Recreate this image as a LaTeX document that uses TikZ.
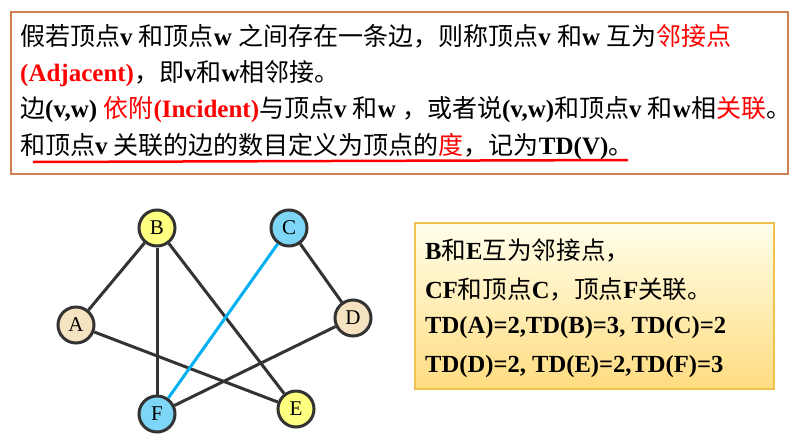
\documentclass[tikz,border=0pt]{standalone}
\usepackage{fontspec}
\setmainfont{Liberation Serif}
\newfontfamily\cjk{Noto Sans CJK SC}
\newcommand\zh[1]{{\cjk\mdseries #1}}
\usetikzlibrary{positioning}
\definecolor{edgegray}{RGB}{51,51,51}
\definecolor{lineblue}{RGB}{0,176,240}
\definecolor{vyellow}{RGB}{255,255,128}
\definecolor{vblue}{RGB}{125,214,245}
\definecolor{vbeige}{RGB}{245,226,192}
\definecolor{boxbrown}{RGB}{208,128,82}
\definecolor{boxgold}{RGB}{240,192,80}
\tikzset{
  vtx/.style={circle,draw=edgegray,line width=3pt,minimum size=36pt,inner sep=0pt,font=\fontsize{21}{21}\selectfont},
  lnk/.style={draw=edgegray,line width=3pt},
  txt/.style={anchor=west,inner sep=0pt,font=\fontsize{25}{25}\selectfont\bfseries},
  tdtxt/.style={anchor=west,inner sep=0pt,font=\fontsize{24.6}{24.6}\selectfont\bfseries},
}
\begin{document}
\begin{tikzpicture}[x=1pt,y=-1pt]
% 1 unit = 1 px of the 802x442 slide
\fill[white] (0,0) rectangle (802,442);
\draw[boxbrown,line width=2pt] (11,12) rectangle (788,174);
\node[txt] (l1) at (20,36) {\zh{假若顶点}v \zh{和顶点}w \zh{之间存在一条边，则称顶点}v \zh{和}w \zh{互为}\textcolor{red}{\zh{邻接点}}};
\node[txt] (l2) at (20,74) {\textcolor{red}{(Adjacent)}\zh{，即}v\zh{和}w\zh{相邻接。}};
\node[txt] (l3) at (20,110) {\zh{边}(v,w) \textcolor{red}{\zh{依附}(Incident)}\zh{与顶点}v \zh{和}w \zh{，或者说}(v,w)\zh{和顶点}v \zh{和}w\zh{相}\textcolor{red}{\zh{关联}}\zh{。}};
\node[txt] (l4) at (20,147) {\zh{和顶点}v \zh{关联的边的数目定义为顶点的}\textcolor{red}{\zh{度}}\zh{，记为}TD(V)\zh{。}};
\draw[red,line width=2.5pt] (33,162) -- (628,160);
% graph
\node[vtx,fill=vyellow] (B) at (157,228) {B};
\node[vtx,fill=vblue] (C) at (289,228) {C};
\node[vtx,fill=vbeige] (A) at (76,325) {A};
\node[vtx,fill=vbeige] (D) at (353,318) {D};
\node[vtx,fill=vblue] (F) at (157,414) {F};
\node[vtx,fill=vyellow] (E) at (296,409) {E};
\foreach \u/\v in {A/B,B/F,B/E,C/D,A/E,D/F} {\draw[lnk] (\u) -- (\v);}
\draw[lnk,draw=lineblue] (C) -- (F);
% note box
\draw[boxgold,line width=1.5pt,top color=yellow!8,bottom color=yellow!45!orange!50] (415,223) rectangle (774,389);
\node[tdtxt] (r1) at (425,250) {B\zh{和}E\zh{互为邻接点，}};
\node[tdtxt] (r2) at (425,289) {CF\zh{和顶点}C\zh{，顶点}F\zh{关联。}};
\node[tdtxt] (r3) at (425,328) {TD(A)=2,TD(B)=3, TD(C)=2};
\node[tdtxt] (r4) at (425,367) {TD(D)=2, TD(E)=2,TD(F)=3};
\end{tikzpicture}
\end{document}
